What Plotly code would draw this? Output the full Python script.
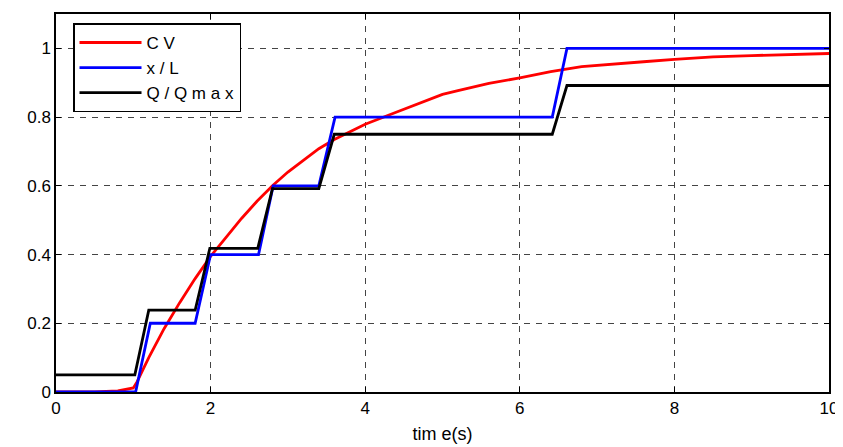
import plotly.graph_objects as go

# Time stamps (s)
t_cv = [0, 0.5, 0.8, 1.0, 1.05, 1.2, 1.4, 1.6, 1.8, 2.0, 2.2, 2.4, 2.6, 2.8, 3.0,
        3.2, 3.4, 3.6, 3.8, 4.0, 4.4, 4.8, 5.0, 5.2, 5.6, 6.0, 6.4, 6.8, 7.2, 7.6, 8.0,
        8.5, 9.0, 9.5, 10.0]
cv = [0, 0, 0.003, 0.012, 0.03, 0.1, 0.185, 0.26, 0.33, 0.395, 0.45, 0.505, 0.555,
      0.6, 0.64, 0.675, 0.708, 0.735, 0.758, 0.779, 0.814, 0.85, 0.866, 0.877, 0.898,
      0.914, 0.932, 0.947, 0.955, 0.961, 0.968, 0.975, 0.979, 0.983, 0.985]

t_xl = [0, 1.03, 1.22, 1.8, 2.0, 2.62, 2.81, 3.4, 3.61, 6.42, 6.61, 10.0]
xl = [0, 0, 0.2, 0.2, 0.4, 0.4, 0.6, 0.6, 0.8, 0.8, 1.0, 1.0]

t_q = [0, 1.02, 1.2, 1.8, 1.99, 2.61, 2.8, 3.4, 3.6, 6.42, 6.61, 10.0]
q = [0.05, 0.05, 0.238, 0.238, 0.418, 0.418, 0.592, 0.592, 0.75, 0.75, 0.892, 0.892]

x_ticks = [0, 2, 4, 6, 8, 10]
y_ticks = [0, 0.2, 0.4, 0.6, 0.8, 1]
y_tick_text = ["0", "0.2", "0.4", "0.6", "0.8", "1"]

FONT = "Liberation Sans, Arial, sans-serif"

fig = go.Figure()
fig.add_trace(go.Scatter(x=t_cv, y=cv, mode="lines", name="C V",
                         line=dict(color="#ff0000", width=2.8)))
fig.add_trace(go.Scatter(x=t_xl, y=xl, mode="lines", name="x / L",
                         line=dict(color="#0000ff", width=2.8)))
fig.add_trace(go.Scatter(x=t_q, y=q, mode="lines", name="Q / Q m a x",
                         line=dict(color="#000000", width=2.8)))

axis_common = dict(
    showline=True, linecolor="black", linewidth=1.5, mirror="ticks",
    ticks="inside", ticklen=5, tickcolor="black", tickwidth=1,
    showgrid=True, gridcolor="#444444", gridwidth=1, griddash="6px,6px",
    zeroline=False, tickfont=dict(family=FONT, size=17, color="black"),
)

fig.update_xaxes(range=[0, 10], tickvals=x_ticks,
                 title=dict(text="tim e(s)", font=dict(family=FONT, size=18, color="black"), standoff=10),
                 **axis_common)
fig.update_yaxes(range=[0, 1.1], tickvals=y_ticks, ticktext=y_tick_text,
                 **axis_common)

# page body has an 8px default margin, so offset the figure accordingly
fig.update_layout(
    width=835, height=439,
    margin=dict(l=48, r=14, t=4, b=55),
    plot_bgcolor="white", paper_bgcolor="white",
    font=dict(family=FONT, size=17, color="black"),
    legend=dict(x=0.022, y=0.975, xanchor="left", yanchor="top",
                bgcolor="white", bordercolor="black", borderwidth=1.5,
                font=dict(family=FONT, size=17, color="black"),
                itemwidth=62, tracegroupgap=0),
    showlegend=True,
)

fig.write_html("out.html")
